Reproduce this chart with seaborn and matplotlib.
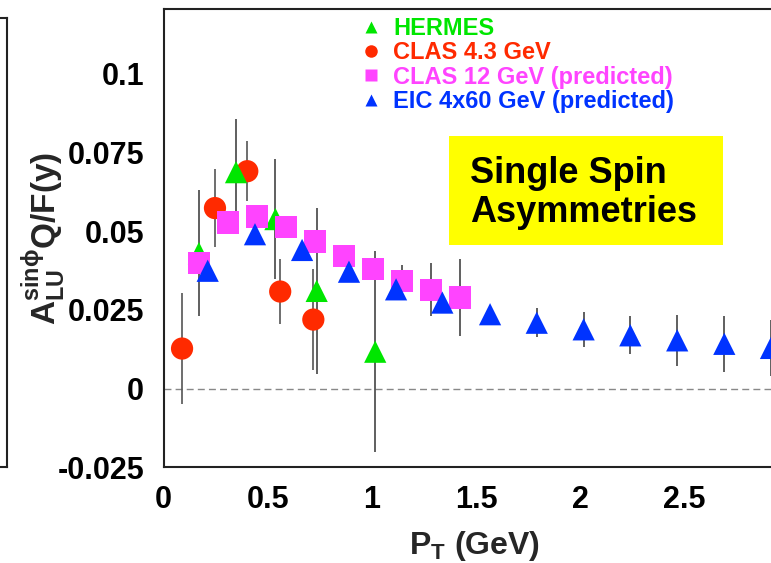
import matplotlib
matplotlib.use("Agg")
import matplotlib.pyplot as plt
import seaborn as sns
from matplotlib.lines import Line2D
from matplotlib.patches import Rectangle
from matplotlib.ticker import MultipleLocator

# HERMES data
hermes_pt = [0.170, 0.348, 0.537, 0.735, 1.016]
hermes_a = [0.043, 0.0687, 0.0538, 0.031, 0.0117]
hermes_err = [0.020, 0.017, 0.019, 0.0264, 0.032]

# CLAS 4.3 GeV
clas_pt = [0.089, 0.247, 0.402, 0.560, 0.719]
clas_a = [0.0127, 0.0573, 0.069, 0.0308, 0.0219]
clas_err = [0.0175, 0.0123, 0.0095, 0.0104, 0.016]

# CLAS 12 GeV (predicted)
clas12_pt = [0.170, 0.310, 0.449, 0.589, 0.726, 0.865, 1.004, 1.144, 1.284, 1.423]
clas12_a = [0.0398, 0.0527, 0.0546, 0.0513, 0.0467, 0.0421, 0.0379, 0.0342, 0.0314, 0.0289]
clas12_err = [0.002, 0.002, 0.002, 0.002, 0.002, 0.002, 0.003, 0.005, 0.0085, 0.0123]

# EIC 4x60 GeV (predicted)
eic_pt = [0.212, 0.439, 0.665, 0.890, 1.116, 1.338, 1.567, 1.791, 2.016, 2.240, 2.465, 2.691, 2.915]
eic_a = [0.0374, 0.049, 0.044, 0.0371, 0.0315, 0.0273, 0.0236, 0.0209, 0.0188, 0.0169, 0.0153, 0.0142, 0.0129]
eic_err = [0.001, 0.001, 0.001, 0.001, 0.002, 0.002, 0.003, 0.0046, 0.0056, 0.006, 0.0081, 0.0088, 0.009]

series_labels = ["HERMES", "CLAS 4.3 GeV", "CLAS 12 GeV (predicted)", "EIC 4x60 GeV (predicted)"]

x_ticks = [0, 0.5, 1, 1.5, 2, 2.5]
x_tick_labels = ["0", "0.5", "1", "1.5", "2", "2.5"]
y_ticks = [-0.025, 0, 0.025, 0.05, 0.075, 0.1]
y_tick_labels = ["-0.025", "0", "0.025", "0.05", "0.075", "0.1"]

GREEN = "#00e600"
RED = "#ff2a00"
MAGENTA = "#ff44ff"
BLUE = "#0033ff"

sns.set_style("white")
plt.rcParams["font.family"] = ["Liberation Sans", "DejaVu Sans"]
plt.rcParams["font.weight"] = "bold"
plt.rcParams["mathtext.fontset"] = "custom"
plt.rcParams["mathtext.rm"] = "Liberation Sans:bold"
plt.rcParams["mathtext.it"] = "Liberation Sans:bold"
plt.rcParams["mathtext.bf"] = "Liberation Sans:bold"

W, H = 771, 563
fig = plt.figure(figsize=(W / 100, H / 100), dpi=100)

# fragment of the neighbouring panel on the left
ax_left = fig.add_axes([-0.5, (H - 466.6) / H, 0.5 + 7 / W, (466.6 - 18) / H])
ax_left.set_xticks([])
ax_left.set_yticks([])
for sp in ax_left.spines.values():
    sp.set_color("#222222")
    sp.set_linewidth(1.5)

ax = fig.add_axes([163.5 / W, (H - 467.3) / H, 625.2 / W, 458.3 / H])

ax.axhline(0, color="#888888", lw=1.0, ls=(0, (5, 3)), zorder=1)

ax.errorbar(clas_pt, clas_a, yerr=clas_err, fmt="none", ecolor="#555555", elinewidth=1.2, zorder=2)
ax.errorbar(hermes_pt, hermes_a, yerr=hermes_err, fmt="none", ecolor="#444444", elinewidth=1.2, zorder=2)
ax.errorbar(clas12_pt, clas12_a, yerr=clas12_err, fmt="none", ecolor="#444444", elinewidth=1.2, zorder=2)
ax.errorbar(eic_pt, eic_a, yerr=eic_err, fmt="none", ecolor="#444444", elinewidth=1.2, zorder=2)

sns.scatterplot(x=clas_pt, y=clas_a, marker="o", s=16 ** 2, color=RED, edgecolor="none", ax=ax, zorder=3)
sns.scatterplot(x=hermes_pt, y=hermes_a, marker="^", s=16 ** 2, color=GREEN, edgecolor="none", ax=ax, zorder=4)
sns.scatterplot(x=clas12_pt, y=clas12_a, marker="s", s=16 ** 2, color=MAGENTA, edgecolor="none", ax=ax, zorder=5)
sns.scatterplot(x=eic_pt, y=eic_a, marker="^", s=16 ** 2, color=BLUE, edgecolor="none", ax=ax, zorder=6)

ax.set_xlim(0, 3.0)
ax.set_ylim(-0.025, 0.1205)
ax.set_xticks(x_ticks, x_tick_labels)
ax.set_yticks(y_ticks, y_tick_labels)
ax.xaxis.set_minor_locator(MultipleLocator(0.25))
ax.tick_params(axis="both", which="both", direction="in", colors="#555555", width=1.0, labelcolor="black", labelsize=22)
ax.tick_params(axis="x", which="major", length=11, pad=13)
ax.tick_params(axis="x", which="minor", length=6)
ax.tick_params(axis="y", which="major", length=10, pad=14)
for sp in ax.spines.values():
    sp.set_color("#222222")
    sp.set_linewidth(1.5)

ax.set_xlabel(r"P$_\mathregular{T}$ (GeV)", fontsize=23, fontweight="bold")
ax.set_ylabel(r"A$^{\mathregular{sin}\phi}_{\mathregular{LU}}$Q/F(y)", fontsize=24, fontweight="bold")
ax.yaxis.set_label_coords(-0.152, 0.5)
ax.xaxis.set_label_coords(0.497, -0.134)

handles = [
    Line2D([], [], ls="none", marker="^", ms=9, color=GREEN, mec="none"),
    Line2D([], [], ls="none", marker="o", ms=9, color=RED, mec="none"),
    Line2D([], [], ls="none", marker="s", ms=8, color=MAGENTA, mec="none"),
    Line2D([], [], ls="none", marker="^", ms=9, color=BLUE, mec="none"),
]
ax.legend(handles, series_labels, loc="upper left", bbox_to_anchor=(0.316, 0.983),
          frameon=False, fontsize=17, labelcolor=[GREEN, RED, MAGENTA, BLUE],
          handlelength=0.8, handletextpad=0.55, labelspacing=0.06, borderpad=0, borderaxespad=0)

ax.add_patch(Rectangle((0.4567, 0.485), 0.4387, 0.238, transform=ax.transAxes,
                       facecolor="#ffff00", edgecolor="none", zorder=7))
ax.text(0.490, 0.536, "Single Spin\nAsymmetries", transform=ax.transAxes, ha="left",
        va="baseline", fontsize=26, fontweight="bold", color="black", linespacing=1.15, zorder=8)

fig.savefig("out.png", dpi=100)
